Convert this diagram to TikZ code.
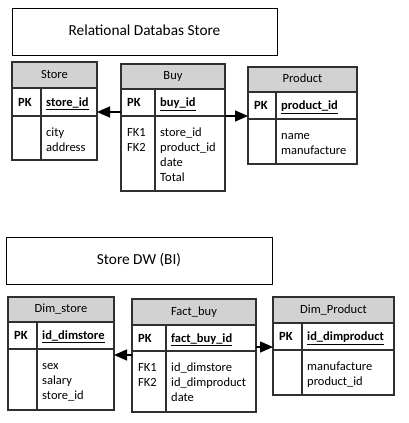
\documentclass[tikz,border=0pt]{standalone}
\usepackage{fontspec}
\setmainfont{Carlito}
\usetikzlibrary{arrows.meta}
\definecolor{lc}{HTML}{303030}
\definecolor{hg}{HTML}{D2D2D2}
\newcommand\fs{\fontsize{12.5}{15}\selectfont}
\newcommand\ftl{\fontsize{15.3}{18}\selectfont}
\begin{document}
\begin{tikzpicture}[x=1pt,y=-1pt,
  tb/.style={draw=lc,line width=1.1pt,rectangle,inner sep=0pt,outer sep=0pt,anchor=north west},
  hdr/.style={tb,fill=hg,font=\fs,text height=8.5pt,text depth=2.5pt},
  ttl/.style={draw=black,line width=0.8pt,rectangle,inner sep=0pt,outer sep=0pt,anchor=north west,font=\ftl,text height=10.5pt,text depth=3pt},
  cell/.style={anchor=base west,inner sep=0pt,font=\fs},
  pkc/.style={cell,font=\fs\bfseries},
  div/.style={draw=lc,line width=1.1pt},
  fk/.style={draw=black,line width=1.4pt,-{Triangle[length=13pt,width=11pt]}},
]
\useasboundingbox (0,0) rectangle (409,423);

% ---------- titles
\node[ttl,minimum width=265pt,minimum height=47pt] (t1) at (12,8) {Relational Databas Store};
\node[ttl,minimum width=266pt,minimum height=47pt] (t2) at (6,237) {Store DW (BI)};

% ---------- Store
\node[hdr,minimum width=85pt,minimum height=26pt] (store-h) at (12,62) {Store};
\node[tb,minimum width=85pt,minimum height=28pt] (store-pk) at (12,88) {};
\node[tb,minimum width=85pt,minimum height=44pt] (store-b) at (12,116) {};
\draw[div] (41,88) -- (41,160);
\node[pkc] (store-pkl) at (18,106) {PK};
\node[pkc] (store-pkf) at (46,106) {\underline{store\_id}};
\foreach \t [count=\i] in {city,address}
  \node[cell] (store-f\i) at (46,121+15*\i) {\t};

% ---------- Buy
\node[hdr,minimum width=104pt,minimum height=25pt] (buy-h) at (121,64) {Buy};
\node[tb,minimum width=104pt,minimum height=27pt] (buy-pk) at (121,89) {};
\node[tb,minimum width=104pt,minimum height=75pt] (buy-b) at (121,116) {};
\draw[div] (155,89) -- (155,191);
\node[pkc] (buy-pkl) at (127,106.5) {PK};
\node[pkc] (buy-pkf) at (160,106.5) {\underline{buy\_id}};
\foreach \t [count=\i] in {FK1,FK2}
  \node[cell] (buy-k\i) at (127,121+15*\i) {\t};
\foreach \t [count=\i] in {store\_id,product\_id,date,Total}
  \node[cell] (buy-f\i) at (160,121+15*\i) {\t};

% ---------- Product
\node[hdr,minimum width=109pt,minimum height=25pt] (prod-h) at (248,67) {Product};
\node[tb,minimum width=109pt,minimum height=27pt] (prod-pk) at (248,92) {};
\node[tb,minimum width=109pt,minimum height=45pt] (prod-b) at (248,119) {};
\draw[div] (276,92) -- (276,164);
\node[pkc] (prod-pkl) at (254,109.5) {PK};
\node[pkc] (prod-pkf) at (281,109.5) {\underline{product\_id}};
\foreach \t [count=\i] in {name,manufacture}
  \node[cell] (prod-f\i) at (281,124+15*\i) {\t};

% ---------- Dim_store
\node[hdr,minimum width=106pt,minimum height=25pt] (ds-h) at (8,297) {Dim\_store};
\node[tb,minimum width=106pt,minimum height=27pt] (ds-pk) at (8,322) {};
\node[tb,minimum width=106pt,minimum height=61pt] (ds-b) at (8,349) {};
\draw[div] (37,322) -- (37,410);
\node[pkc] (ds-pkl) at (14,339.5) {PK};
\node[pkc] (ds-pkf) at (42,339.5) {\underline{id\_dimstore}};
\foreach \t [count=\i] in {sex,salary,store\_id}
  \node[cell] (ds-f\i) at (42,354+15*\i) {\t};

% ---------- Fact_buy
\node[hdr,minimum width=124pt,minimum height=26pt] (fb-h) at (132,299) {Fact\_buy};
\node[tb,minimum width=124pt,minimum height=26pt] (fb-pk) at (132,325) {};
\node[tb,minimum width=124pt,minimum height=61pt] (fb-b) at (132,351) {};
\draw[div] (166,325) -- (166,412);
\node[pkc] (fb-pkl) at (138,342) {PK};
\node[pkc] (fb-pkf) at (171,342) {\underline{fact\_buy\_id}};
\foreach \t [count=\i] in {FK1,FK2}
  \node[cell] (fb-k\i) at (138,356+15*\i) {\t};
\foreach \t [count=\i] in {id\_dimstore,id\_dimproduct,date}
  \node[cell] (fb-f\i) at (171,356+15*\i) {\t};

% ---------- Dim_Product
\node[hdr,minimum width=121pt,minimum height=26pt] (dp-h) at (273,297) {Dim\_Product};
\node[tb,minimum width=121pt,minimum height=27pt] (dp-pk) at (273,323) {};
\node[tb,minimum width=121pt,minimum height=45pt] (dp-b) at (273,350) {};
\draw[div] (302,323) -- (302,395);
\node[pkc] (dp-pkl) at (279,340.5) {PK};
\node[pkc] (dp-pkf) at (307,340.5) {\underline{id\_dimproduct}};
\foreach \t [count=\i] in {manufacture,product\_id}
  \node[cell] (dp-f\i) at (307,355+15*\i) {\t};

% ---------- connectors
\coordinate (a1) at ([yshift=4pt]buy-b.north west);
\draw[fk] (a1) -- (a1 -| store-pk.east);
\coordinate (a2) at (buy-b.north east);
\draw[fk] (a2) -- (a2 -| prod-pk.west);
\coordinate (b1) at ([yshift=-4pt]fb-b.north west);
\draw[fk] (b1) -- (b1 -| ds-pk.east);
\coordinate (b2) at ([yshift=4pt]fb-b.north east);
\draw[fk] (b2) -- (b2 -| dp-pk.west);
\end{tikzpicture}
\end{document}
